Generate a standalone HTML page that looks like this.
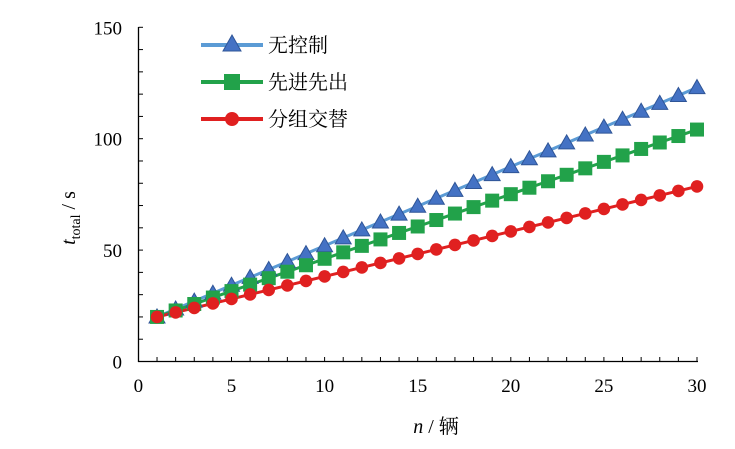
<!DOCTYPE html>
<html><head><meta charset="utf-8"><style>
body{margin:0;background:#fff}
text{font-family:"Liberation Serif","Noto Serif CJK SC",serif;font-size:19px;fill:#000}
</style></head><body>
<svg width="735" height="444" viewBox="0 0 735 444" xmlns="http://www.w3.org/2000/svg">
<g id="axes" stroke="#000" stroke-width="1.3" fill="none">
<line x1="138.5" y1="27" x2="138.5" y2="362"/>
<line x1="138" y1="361.5" x2="698" y2="361.5"/>
</g>
<g id="ticks" stroke="#000" stroke-width="1"></g>
<g id="series"></g>
<g id="labels"></g>
<text x="75" y="218" transform="rotate(-90 75 218)" text-anchor="middle" style="font-size:20px"><tspan font-style="italic">t</tspan><tspan style="font-size:14px" dy="5">total</tspan><tspan dy="-5"> / s</tspan></text>
<text x="436" y="433" text-anchor="middle" style="font-size:20px"><tspan font-style="italic">n</tspan> / 辆</text>
<g>
<line x1="201" y1="45" x2="263" y2="45" stroke="#5b9bd5" stroke-width="4"/>
<polygon points="232,35 241,51 223,51" fill="#4472c4" stroke="#2f5597" stroke-width="1"/>
<text x="268" y="52" style="font-size:20px">无控制</text>
<line x1="201" y1="82" x2="263" y2="82" stroke="#22a24a" stroke-width="4"/>
<rect x="224" y="74" width="16" height="16" fill="#22a24a"/>
<text x="268" y="89" style="font-size:20px">先进先出</text>
<line x1="201" y1="119" x2="263" y2="119" stroke="#e02020" stroke-width="4"/>
<circle cx="232" cy="119" r="7" fill="#e02020"/>
<text x="268" y="126" style="font-size:20px">分组交替</text>
</g>
</svg>
<script>
const NS="http://www.w3.org/2000/svg";
const X=n=>138.4+n*18.62, Y=v=>361.5-v*2.228;
function el(p,t,a,txt){const e=document.createElementNS(NS,t);for(const k in a)e.setAttribute(k,a[k]);if(txt)e.textContent=txt;document.getElementById(p).appendChild(e);return e;}
for(let v=10;v<=150;v+=10)el('ticks','line',{x1:138.5,x2:143,y1:Y(v),y2:Y(v)});
for(let n=1;n<=30;n++)el('ticks','line',{x1:X(n),x2:X(n),y1:361.5,y2:357});
for(let v=0;v<=150;v+=50)el('labels','text',{x:122,y:Y(v)+7,'text-anchor':'end'},String(v));
for(let n=0;n<=30;n+=5)el('labels','text',{x:X(n),y:392,'text-anchor':'middle'},String(n));
const N=[...Array(30)].map((_,i)=>i+1);
const blue=N.map(n=>20+3.55*(n-1)), green=N.map(n=>20+2.9*(n-1)), red=N.map(n=>20+2.02*(n-1));
function line(d,c){el('series','polyline',{points:N.map((n,i)=>X(n)+','+Y(d[i])).join(' '),fill:'none',stroke:c,'stroke-width':3});}
line(blue,'#5b9bd5');line(green,'#22a24a');line(red,'#e02020');
N.forEach((n,i)=>{const x=X(n),y=Y(blue[i]);el('series','polygon',{points:`${x},${y-8} ${x+8},${y+6} ${x-8},${y+6}`,fill:'#4472c4',stroke:'#2f5597','stroke-width':1});});
N.forEach((n,i)=>{el('series','rect',{x:X(n)-7,y:Y(green[i])-7,width:14,height:14,fill:'#22a24a'});});
N.forEach((n,i)=>{el('series','circle',{cx:X(n),cy:Y(red[i]),r:6.3,fill:'#e02020'});});
</script>
</body></html>
